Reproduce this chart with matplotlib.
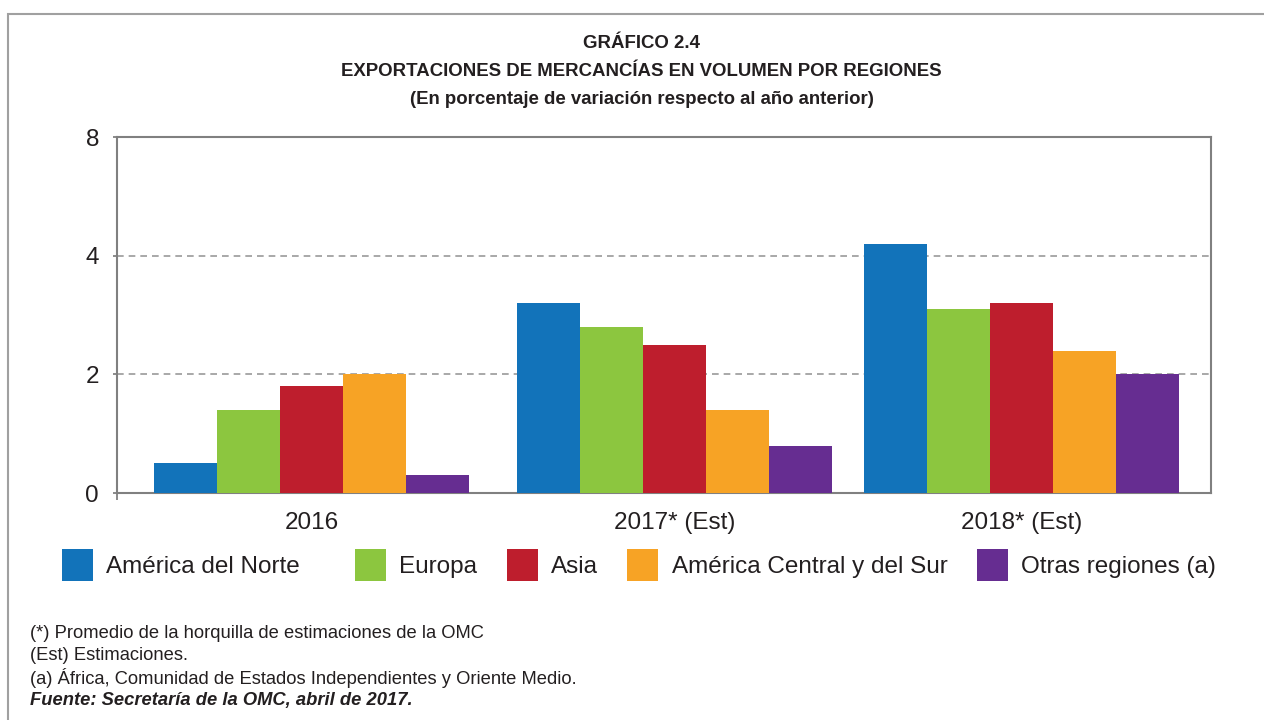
import matplotlib
matplotlib.use('agg')
import matplotlib.pyplot as plt
from matplotlib.patches import Rectangle
import numpy as np

# data
years = ['2016', '2017* (Est)', '2018* (Est)']
regions = ['América del Norte', 'Europa', 'Asia', 'América Central y del Sur', 'Otras regiones (a)']
norte = [0.5, 3.2, 4.2]
europa = [1.4, 2.8, 3.1]
asia = [1.8, 2.5, 3.2]
central_sur = [2.0, 1.4, 2.4]
otras = [0.3, 0.8, 2.0]
yticks = [0, 2, 4, 6]
ytick_labels = ['0', '2', '4', '8']   # as printed in the source
colors = ['#1273BA', '#8CC63F', '#BE1E2D', '#F7A325', '#662D91']

plt.rcParams['font.family'] = ['Liberation Sans', 'DejaVu Sans']
txt = '#231f20'

fig = plt.figure(figsize=(12.64, 7.2), dpi=100)
ax = fig.add_axes([117 / 1264, 1 - 493 / 720, (1211 - 117) / 1264, (493 - 137) / 720])

# outer frame (cut at right and bottom)
fig.patches.append(Rectangle((8 / 1264, -0.1), 1.2, 1 - 14 / 720 + 0.1,
                             transform=fig.transFigure, fill=False,
                             edgecolor='#a0a0a0', linewidth=1.5))

centers = np.array([0, 5.76, 11.27])
width = 1.0
series = [norte, europa, asia, central_sur, otras]
bars = []
for i, (vals, lab, c) in enumerate(zip(series, regions, colors)):
    bars.append(ax.bar(centers + (i - 2) * width, vals, width, color=c, label=lab, zorder=3))

ax.set_xlim(-3.09, 14.28)
ax.set_ylim(0, 6)
ax.set_yticks(yticks)
ax.set_yticklabels(ytick_labels)
ax.set_xticks(centers)
ax.set_xticklabels(years)
ax.set_xticks([-3.09], minor=True)
ax.tick_params(axis='x', which='major', length=0, pad=14, labelsize=17.5, labelcolor=txt)
ax.tick_params(axis='x', which='minor', length=5, width=1.2, color='#777777', direction='out')
ax.tick_params(axis='y', length=3, width=1.2, color='#777777', pad=10, labelsize=17.5, labelcolor=txt)
for g in [2, 4]:
    ax.axhline(g, color='#999999', linestyle=(0, (4, 3)), linewidth=1.2, zorder=1)
for s in ax.spines.values():
    s.set_color('#808080')
    s.set_linewidth(1.5)

for y, t in [(43, 'GRÁFICO 2.4'),
             (72, 'EXPORTACIONES DE MERCANCÍAS EN VOLUMEN POR REGIONES'),
             (100, '(En porcentaje de variación respecto al año anterior)')]:
    fig.text(0.5075, 1 - y / 720, t, ha='center', va='center',
             fontsize=13.4, fontweight='bold', color=txt)

leg_kw = dict(loc='center left', ncol=4, frameon=False, fontsize=17.5,
              handlelength=1.28, handleheight=1.65, handletextpad=0.55,
              columnspacing=1.2, borderaxespad=0, borderpad=0, labelcolor=txt)
fig.legend(bars[:1], regions[:1], bbox_to_anchor=(62 / 1264, 1 - 565 / 720), **leg_kw)
fig.legend(bars[1:], regions[1:], bbox_to_anchor=(355 / 1264, 1 - 565 / 720), **leg_kw)

notes = ['(*) Promedio de la horquilla de estimaciones de la OMC',
         '(Est) Estimaciones.',
         '(a) África, Comunidad de Estados Independientes y Oriente Medio.']
for k, t in enumerate(notes):
    fig.text(30 / 1264, 1 - (634 + 22 * k) / 720, t, ha='left', va='center',
             fontsize=13.2, color=txt)
fig.text(30 / 1264, 1 - 701 / 720, 'Fuente: Secretaría de la OMC, abril de 2017.', ha='left', va='center',
         fontsize=13.2, fontweight='bold', style='italic', color=txt)

fig.savefig('out.png', dpi=100)
